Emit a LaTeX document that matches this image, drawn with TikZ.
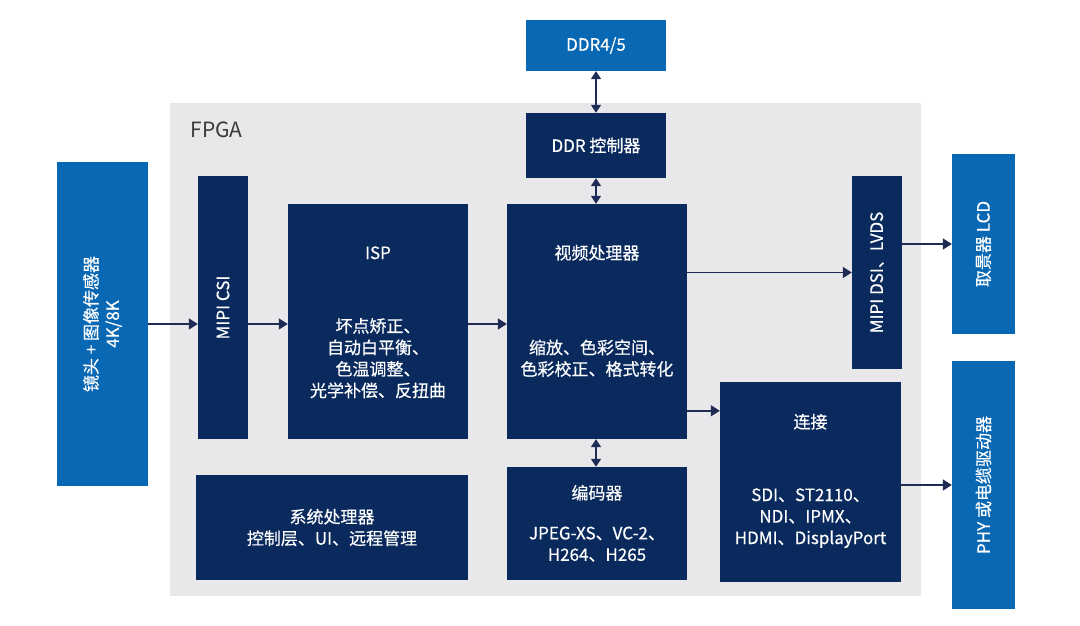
\documentclass[tikz,border=0pt]{standalone}
\usepackage{fontspec}
\setmainfont{Noto Sans CJK SC}
\newfontfamily\boxfont[FakeBold=0.4]{Noto Sans CJK SC}
\usepackage{tikz}
\usetikzlibrary{arrows.meta,positioning,calc}
\definecolor{mNavy}{HTML}{0A2A5E}
\definecolor{mBlue}{HTML}{0868B4}
\definecolor{mGray}{HTML}{E8E8EA}
\definecolor{mArrow}{HTML}{1F2A55}
\definecolor{mLabel}{HTML}{3A3A3A}

\begin{document}
\begin{tikzpicture}[x=1pt,y=1pt,
    navybox/.style={fill=mNavy,inner sep=0pt},
    bluebox/.style={fill=mBlue,inner sep=0pt},
    boxtext/.style={text=white,align=center,font=\boxfont\fontsize{17}{21.5}\selectfont},
    flow/.style={mArrow,line width=1.5pt,-{Triangle[length=9pt,width=11pt]}},
    twoway/.style={mArrow,line width=1.5pt,{Triangle[length=8pt,width=10pt]}-{Triangle[length=8pt,width=10pt]}}]
  \useasboundingbox (0,0) rectangle (1080,626);
  \fill[white] (0,0) rectangle (1080,626);
  \node[fill=mGray,inner sep=0pt,minimum width=751pt,minimum height=493pt] (fpga) at (545.5,276.5) {};
  \node[anchor=base west,text=mLabel,font=\fontsize{21}{25}\selectfont] (fpgalabel) at (187,488) {FPGA};

  \node[bluebox,boxtext,minimum width=140pt,minimum height=51pt] (ddrmem) at (596,580.5) {DDR4/5};
  \node[navybox,boxtext,minimum width=140pt,minimum height=65pt] (ddrctl) at (596,480.5) {DDR 控制器};

  \node[bluebox,minimum width=91pt,minimum height=324pt] (sensor) at (102.5,302) {};
  \node[boxtext,rotate=90] (sensortext) at (sensor) {镜头 + 图像传感器\\4K/8K};
  \node[navybox,minimum width=50pt,minimum height=263pt] (csi) at (223,318.5) {};
  \node[boxtext,rotate=90] (csitext) at (csi) {MIPI CSI};

  \node[navybox,minimum width=180pt,minimum height=235pt] (isp) at (378,304.5) {};
  \node[boxtext] (isptitle) at ([yshift=-49pt]isp.north) {ISP};
  \node[boxtext] (ispdesc) at ([yshift=81pt]isp.south) {坏点矫正、\\自动白平衡、\\色温调整、\\光学补偿、反扭曲};

  \node[navybox,minimum width=180pt,minimum height=235pt] (video) at (597,304.5) {};
  \node[boxtext] (videotitle) at ([yshift=-49pt]video.north) {视频处理器};
  \node[boxtext] (videodesc) at ([yshift=81pt]video.south) {缩放、色彩空间、\\色彩校正、格式转化};

  \node[navybox,minimum width=180pt,minimum height=113pt] (enc) at (597,102.5) {};
  \node[boxtext] (enctitle) at ([yshift=-26pt]enc.north) {编码器};
  \node[boxtext] (encdesc) at ([yshift=36pt]enc.south) {JPEG-XS、VC-2、\\H264、H265};

  \node[navybox,boxtext,minimum width=272pt,minimum height=105pt] (sys) at (332,98.5) {系统处理器\\控制层、UI、远程管理};

  \node[navybox,minimum width=50pt,minimum height=193pt] (dsi) at (877,353.5) {};
  \node[boxtext,rotate=90] (dsitext) at (dsi) {MIPI DSI、LVDS};

  \node[navybox,minimum width=181pt,minimum height=200pt] (conn) at (810.5,144) {};
  \node[boxtext] (conntitle) at ([yshift=-40pt]conn.north) {连接};
  \node[boxtext] (conndesc) at ([yshift=64pt]conn.south) {SDI、ST2110、\\NDI、IPMX、\\HDMI、DisplayPort};

  \node[bluebox,minimum width=63pt,minimum height=180pt] (lcd) at (983.5,382) {};
  \node[boxtext,rotate=90] (lcdtext) at (lcd) {取景器 LCD};
  \node[bluebox,minimum width=63pt,minimum height=248pt] (phy) at (983.5,141) {};
  \node[boxtext,rotate=90] (phytext) at (phy) {PHY 或电缆驱动器};

  \draw[flow] (sensor.east) -- (sensor.east -| csi.west);
  \draw[flow] (csi.east |- sensor.east) -- (isp.west |- sensor.east);
  \draw[flow] (isp.east |- sensor.east) -- (video.west |- sensor.east);
  \draw[flow] (video.east |- dsi.west) -- (dsi.west);
  \draw[flow] (dsi.east |- lcd.west) -- (lcd.west);
  \coordinate (connin) at ([yshift=-29pt]conn.north west);
  \draw[flow] (video.east |- connin) -- (connin);
  \draw[flow] (conn.east |- phy.west) -- (phy.west);
  \draw[twoway] (ddrmem.south) -- (ddrctl.north);
  \draw[twoway] (ddrctl.south) -- (ddrctl.south |- video.north);
  \draw[twoway] (ddrctl.south |- video.south) -- (ddrctl.south |- enc.north);
\end{tikzpicture}
\end{document}
